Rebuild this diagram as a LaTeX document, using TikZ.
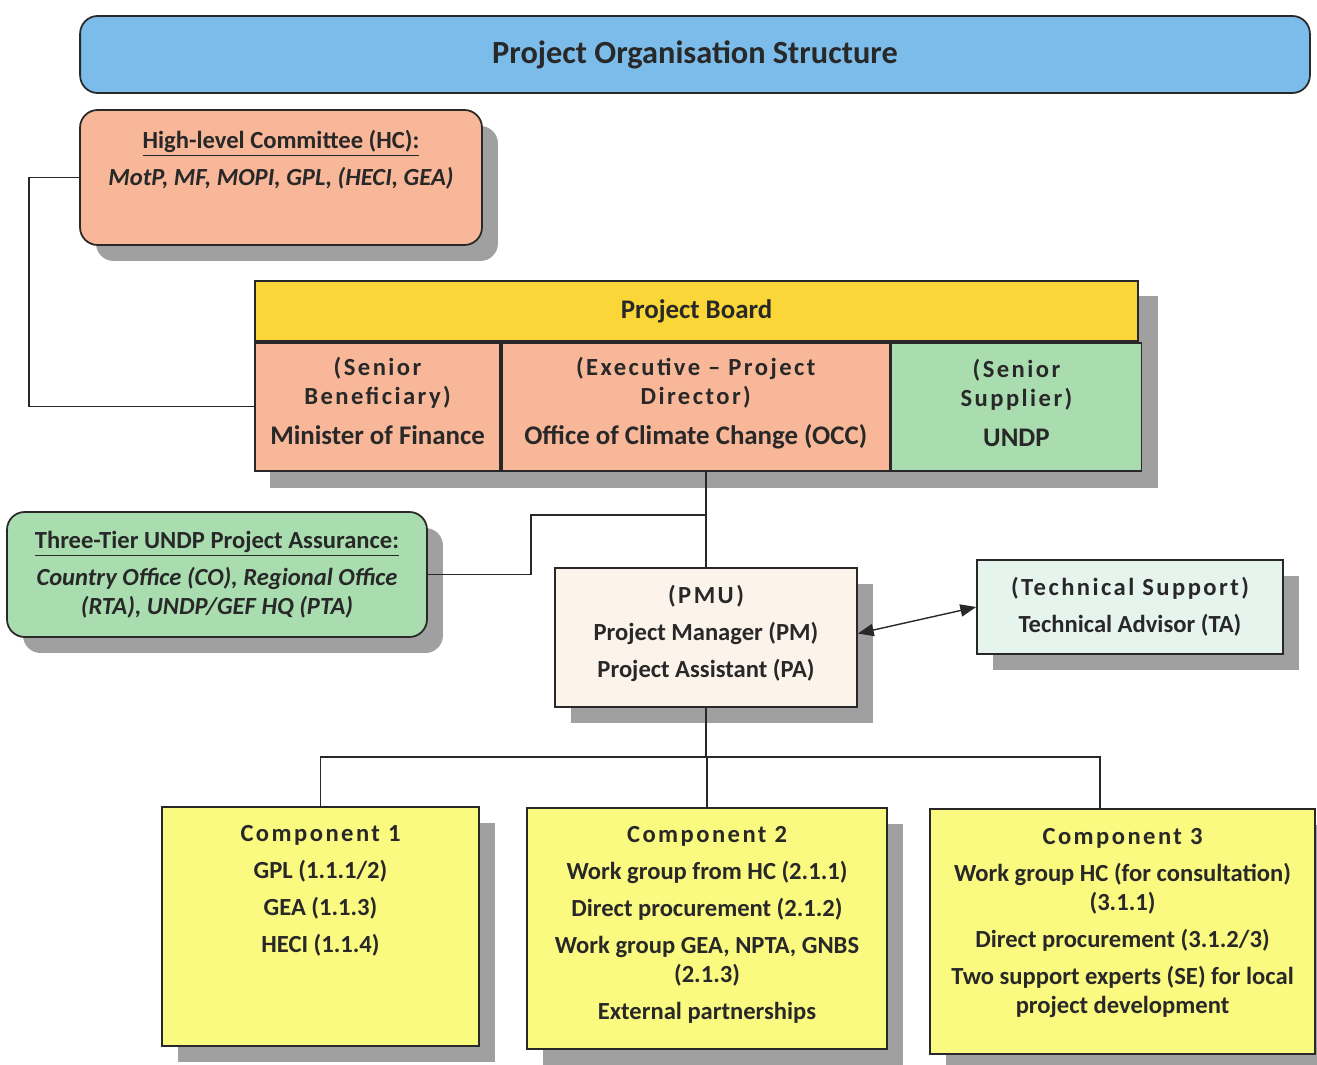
\documentclass[tikz,border=0pt]{standalone}
\usepackage{fontspec}
\setmainfont{Carlito}
\newfontfamily\spacedfont[LetterSpace=10]{Carlito}
\usetikzlibrary{arrows.meta,positioning,shadows,backgrounds}

\definecolor{titleblue}{RGB}{124,188,234}
\definecolor{peach}{RGB}{247,183,152}
\definecolor{boardyellow}{RGB}{250,214,56}
\definecolor{mint}{RGB}{169,221,176}
\definecolor{cream}{RGB}{252,243,235}
\definecolor{paleaqua}{RGB}{230,244,238}
\definecolor{lemon}{RGB}{250,250,128}
\definecolor{inkgray}{RGB}{40,40,40}
\definecolor{shadowgray}{RGB}{160,160,160}

\newcommand{\spc}[1]{{\spacedfont\bfseries #1}}
\newcommand{\cellname}[1]{{\fontsize{15.3}{16.5}\selectfont #1}}

\begin{document}
\begin{tikzpicture}[x=0.02cm,y=-0.02cm,
every node/.style={text=inkgray},
txt/.style={font=\fontsize{14}{16.5}\selectfont\bfseries,align=center},
box/.style={draw=inkgray,line width=1pt,txt},
roundbox/.style={box,rounded corners=10pt},
shadowed/.style={drop shadow={shadow xshift=0.32cm,shadow yshift=-0.32cm,fill=shadowgray,opacity=1}},
link/.style={draw=inkgray,line width=0.8pt},
tip/.style={{Triangle[length=9pt,width=7pt]}-{Triangle[length=9pt,width=7pt]}}
]
\useasboundingbox (0,0) rectangle (1317,1064);

% title banner
\node[roundbox,fill=titleblue,minimum width=24.6cm,minimum height=1.54cm,font=\fontsize{18.4}{21}\selectfont\bfseries] (title) at (695,54.5) {Project Organisation Structure};

% high-level committee
\node[roundbox,shadowed,fill=peach,minimum width=8.04cm,minimum height=2.7cm] (hc) at (281,177.5) {};
\node[txt,inner sep=0pt,anchor=north] (hctxt) at (281,130) {\underline{High-level Committee (HC):}\\[4.5pt]\textit{MotP, MF, MOPI, GPL, (HECI, GEA)}};

% project board
\node[box,fill=boardyellow,minimum width=17.66cm,minimum height=1.2cm,font=\fontsize{15.3}{16.5}\selectfont\bfseries] (pbhead) at (696.5,311) {Project Board};
\node[box,fill=peach,minimum width=4.9cm,minimum height=2.56cm,anchor=north west] (sb) at (pbhead.south west) {};
\node[box,fill=peach,minimum width=7.76cm,minimum height=2.56cm,anchor=north west] (ex) at (sb.north east) {};
\node[box,fill=mint,minimum width=5cm,minimum height=2.56cm,anchor=north west] (ss) at (ex.north east) {};
\node[txt,inner sep=0pt,anchor=north] (sbtxt) at (sb.north |- 0,357) {\spc{(Senior}\\\spc{Beneficiary)}\\[6pt]\cellname{Minister of Finance}};
\node[txt,inner sep=0pt,anchor=north] (extxt) at (ex.north |- 0,357) {\spc{(Executive – Project}\\\spc{Director)}\\[6pt]\cellname{Office of Climate Change (OCC)}};
\node[txt,inner sep=0pt,anchor=north] (sstxt) at (ss.north |- 0,359) {\spc{(Senior}\\\spc{Supplier)}\\[6pt]\cellname{UNDP}};
\begin{scope}[on background layer]
\fill[shadowgray] ([shift={(16,16)}]pbhead.north west) rectangle ([shift={(16,16)}]ss.south east);
\end{scope}

% assurance, PMU and technical support
\node[roundbox,shadowed,fill=mint,minimum width=8.4cm,minimum height=2.5cm] (assur) at (217,574.5) {\underline{Three-Tier UNDP Project Assurance:}\\[4.5pt]\textit{Country Office (CO), Regional Office}\\\textit{(RTA), UNDP/GEF HQ (PTA)}};
\node[box,shadowed,fill=cream,minimum width=6.04cm,minimum height=2.78cm] (pmu) at (706,637.5) {};
\node[txt,inner sep=0pt,anchor=north] (pmutxt) at (pmu.north |- 0,585) {\spc{(PMU)}\\[4.5pt]Project Manager (PM)\\[4.5pt]Project Assistant (PA)};
\node[box,shadowed,fill=paleaqua,minimum width=6.12cm,minimum height=1.88cm] (ta) at (1130,607) {\spc{(Technical Support)}\\[4.5pt]Technical Advisor (TA)};

% components
\node[box,shadowed,fill=lemon,minimum width=6.34cm,minimum height=4.78cm] (c1) at (320.5,926.5) {};
\node[txt,inner sep=0pt,anchor=north] (c1txt) at (c1.north |- 0,825) {\spc{Component 1}\\[4.5pt]GPL (1.1.1/2)\\[4.5pt]GEA (1.1.3)\\[4.5pt]HECI (1.1.4)};
\node[box,shadowed,fill=lemon,minimum width=7.2cm,minimum height=4.82cm] (c2) at (707,928.5) {};
\node[txt,inner sep=0pt,anchor=north] (c2txt) at (c2.north |- 0,826) {\spc{Component 2}\\[4.5pt]Work group from HC (2.1.1)\\[4.5pt]Direct procurement (2.1.2)\\[4.5pt]Work group GEA, NPTA, GNBS\\(2.1.3)\\[4.5pt]External partnerships};
\node[box,shadowed,fill=lemon,minimum width=7.7cm,minimum height=4.9cm] (c3) at (1122.5,931.5) {};
\node[txt,inner sep=0pt,anchor=north] (c3txt) at (c3.north |- 0,828) {\spc{Component 3}\\[4.5pt]Work group HC (for consultation)\\(3.1.1)\\[4.5pt]Direct procurement (3.1.2/3)\\[4.5pt]Two support experts (SE) for local\\project development};

% connectors
\coordinate (tee) at (pmu.north |- 0,515);
\coordinate (bus) at (pmu.south |- 0,757);
\draw[link] (hc.west) -- ++(-50,0) |- (sb.west);
\draw[link] (pmu.north) -- (pmu.north |- ex.south);
\draw[link] (assur.east) -- ++(103,0) |- (tee);
\draw[link,tip] ([yshift=0.08cm]pmu.east) -- (ta.west);
\draw[link] (pmu.south) -- (bus);
\draw[link] (c1.north) |- (bus) -| ([xshift=-0.45cm]c3.north);
\draw[link] (c2.north) -- (c2.north |- bus);
\end{tikzpicture}
\end{document}
